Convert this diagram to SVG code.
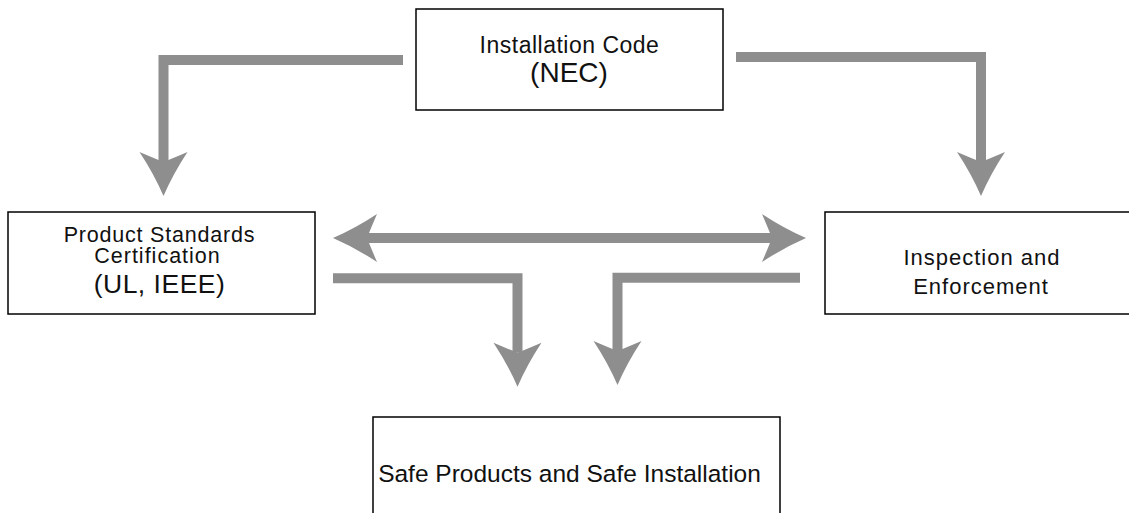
<svg xmlns="http://www.w3.org/2000/svg" width="1129" height="513" viewBox="0 0 1129 513">
  <style>
    .box { fill: #ffffff; stroke: #000000; stroke-width: 1.5; }
    .lbl { font-family: "Liberation Sans", Arial, sans-serif; fill: #111111; text-anchor: middle; }
    .flow { fill: none; stroke: #8e8e8e; stroke-width: 10; stroke-linejoin: miter; stroke-linecap: butt; }
  </style>
  <defs>
    <!-- stealth-style arrowhead; the shaft ends at the notch (refX) -->
    <marker id="head" markerUnits="userSpaceOnUse" markerWidth="50" markerHeight="52" viewBox="0 -26 50 52" refX="10" refY="0" orient="auto-start-reverse" overflow="visible">
      <path d="M44,0 Q22,-9.5 0,-24 Q6,-10 10,0 Q6,10 0,24 Q22,9.5 44,0 Z" fill="#8e8e8e"/>
    </marker>
  </defs>

  <g id="connectors">
    <polyline class="flow" points="403,60 163.5,60 163.5,162" marker-end="url(#head)"/>
    <polyline class="flow" points="736,57 981,57 981,162" marker-end="url(#head)"/>
    <line class="flow" x1="367" y1="238" x2="772" y2="238" marker-start="url(#head)" marker-end="url(#head)"/>
    <polyline class="flow" points="333,278.3 517.5,278.3 517.5,352.7" marker-end="url(#head)"/>
    <polyline class="flow" points="800,277.7 617.5,277.7 617.5,351" marker-end="url(#head)"/>
  </g>

  <g id="installation-code">
    <rect class="box" x="416" y="9" width="307" height="101"/>
    <text class="lbl" x="569.5" y="53.3" font-size="23" letter-spacing="0.5">Installation Code</text>
    <text class="lbl" x="569" y="81.7" font-size="28">(NEC)</text>
  </g>

  <g id="product-standards">
    <rect class="box" x="8" y="212" width="307" height="102"/>
    <text class="lbl" x="159.5" y="241.7" font-size="21.5" letter-spacing="0.8">Product Standards</text>
    <text class="lbl" x="157.5" y="263.3" font-size="21.5" letter-spacing="1">Certification</text>
    <text class="lbl" x="159.5" y="293.3" font-size="26.5" letter-spacing="0.5">(UL, IEEE)</text>
  </g>

  <g id="inspection-enforcement">
    <rect class="box" x="825" y="212" width="320" height="102"/>
    <text class="lbl" x="982" y="265" font-size="22" letter-spacing="1">Inspection and</text>
    <text class="lbl" x="981" y="294.3" font-size="22" letter-spacing="1">Enforcement</text>
  </g>

  <g id="safe-outcome">
    <rect class="box" x="373" y="417" width="407" height="120"/>
    <text class="lbl" x="569.5" y="481.7" font-size="24.5">Safe Products and Safe Installation</text>
  </g>
</svg>
